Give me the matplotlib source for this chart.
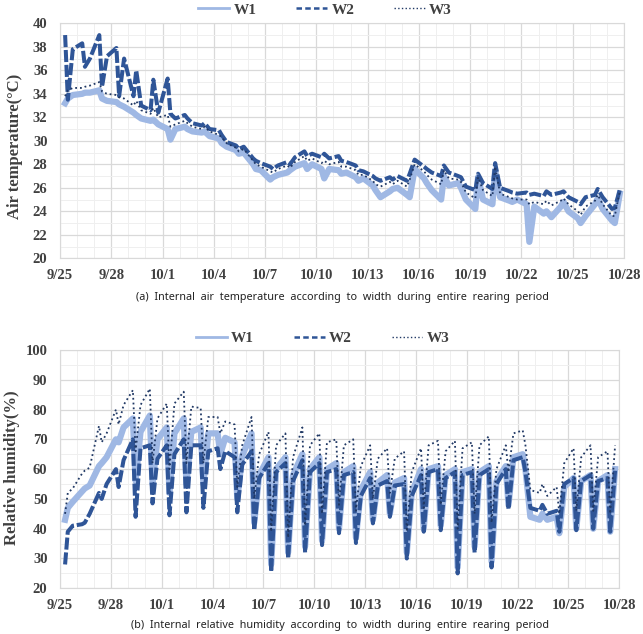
import numpy as np
import matplotlib
matplotlib.use("Agg")
import matplotlib.pyplot as plt

# three readings a day (early morning, midday, evening), days counted from 9/25
day_offsets = [0.3, 0.46, 0.75]
t = np.array([d + f for d in range(33) for f in day_offsets])

date_labels = ["9/25", "9/28", "10/1", "10/4", "10/7", "10/10",
               "10/13", "10/16", "10/19", "10/22", "10/25", "10/28"]
series_names = ["W1", "W2", "W3"]

# internal air temperature (C), one row per day
temp_w1 = [
    33.2, 33.6, 33.9,  34.0, 34.1, 34.1,  34.3, 33.6, 33.4,  33.3, 33.1, 32.9,
    32.4, 32.2, 31.9,  31.7, 31.8, 31.4,  31.0, 30.1, 31.0,  31.2, 31.0, 30.8,
    30.7, 30.8, 30.4,  30.2, 29.8, 29.5,  29.2, 28.9, 29.0,  28.0, 27.6, 27.5,
    26.7, 26.9, 27.1,  27.3, 27.5, 27.8,  28.1, 27.6, 28.0,  27.6, 26.8, 27.6,
    27.5, 27.2, 27.3,  26.9, 26.6, 26.8,  26.2, 25.8, 25.2,  25.7, 25.9, 26.0,
    25.4, 25.2, 27.6,  26.8, 26.4, 25.8,  25.0, 27.0, 26.2,  26.4, 26.0, 25.0,
    24.2, 26.9, 25.0,  24.6, 27.5, 25.2,  24.9, 24.8, 25.0,  24.6, 21.4, 24.4,
    23.8, 24.0, 23.5,  24.4, 24.8, 24.0,  23.4, 23.0, 23.6,  24.6, 25.1, 24.2,
    23.2, 23.0, 25.5,
]
temp_w2 = [
    39.0, 33.5, 37.8,  38.3, 36.3, 37.0,  39.0, 34.6, 37.2,  37.9, 33.8, 37.0,
    33.8, 36.0, 33.0,  32.6, 35.2, 32.4,  35.3, 32.3, 31.9,  32.2, 31.9, 31.5,
    31.3, 31.5, 31.0,  30.9, 30.5, 29.9,  29.6, 29.3, 29.5,  28.5, 28.3, 28.1,
    27.8, 27.6, 27.9,  28.2, 28.0, 28.6,  29.1, 28.7, 28.9,  28.6, 28.9, 28.5,
    28.7, 28.3, 28.2,  27.9, 27.5, 27.4,  27.0, 26.8, 26.6,  26.9, 26.7, 27.0,
    26.6, 27.2, 28.4,  27.8, 27.6, 27.3,  27.0, 27.9, 27.3,  27.0, 26.9, 26.1,
    25.8, 27.2, 26.4,  25.9, 28.1, 26.0,  25.7, 25.6, 25.5,  25.6, 25.4, 25.5,
    25.3, 25.7, 25.4,  25.6, 25.7, 25.2,  24.8, 24.6, 25.2,  25.4, 25.9, 25.2,
    24.2, 24.3, 25.8,
]
temp_w3 = [
    33.8, 34.3, 34.5,  34.5, 34.6, 34.7,  35.0, 34.2, 34.0,  33.9, 33.7, 33.6,
    33.0, 33.4, 32.6,  32.3, 32.8, 32.0,  32.2, 31.2, 31.4,  31.7, 31.5, 31.2,
    31.0, 31.2, 30.8,  30.5, 30.3, 29.8,  29.4, 29.1, 29.3,  28.3, 28.0, 27.8,
    27.4, 27.3, 27.6,  27.9, 27.7, 28.2,  28.7, 28.3, 28.5,  28.1, 28.3, 28.0,
    28.2, 27.8, 27.8,  27.5, 27.1, 27.1,  26.6, 26.3, 26.1,  26.5, 26.3, 26.6,
    26.1, 26.7, 28.0,  27.4, 27.1, 26.7,  26.3, 27.5, 26.8,  26.7, 26.5, 25.6,
    25.1, 26.9, 25.8,  25.3, 27.8, 25.5,  25.2, 25.1, 25.0,  25.0, 24.6, 24.8,
    24.6, 24.9, 24.5,  24.9, 25.1, 24.6,  24.0, 23.7, 24.4,  24.9, 25.4, 24.6,
    23.6, 23.6, 25.7,
]

# internal relative humidity (%)
hum_w1 = [
    43.0, 47.0, 49.0,  52.5, 53.5, 54.5,  61.0, 62.0, 64.0,  70.0, 69.0, 74.0,
    77.0, 56.0, 72.5,  78.0, 55.0, 70.0,  74.0, 52.0, 72.0,  77.0, 55.0, 72.5,
    74.0, 55.0, 72.0,  72.0, 65.0, 70.5,  69.0, 50.0, 64.5,  72.0, 42.0, 58.0,
    64.0, 28.0, 60.0,  64.0, 32.0, 58.0,  65.0, 34.0, 60.0,  64.0, 36.0, 60.0,
    62.0, 40.0, 59.0,  61.0, 37.0, 53.0,  59.0, 43.0, 55.5,  58.0, 45.0, 55.5,
    57.0, 32.0, 52.0,  60.0, 40.0, 60.0,  61.0, 41.0, 58.0,  60.0, 27.0, 59.0,
    60.0, 34.0, 59.0,  61.0, 29.0, 56.0,  61.0, 48.0, 64.0,  65.0, 60.0, 44.0,
    43.0, 45.0, 43.0,  44.0, 38.5, 54.0,  57.0, 40.0, 56.0,  58.0, 40.0, 56.0,
    58.0, 39.0, 60.0,
]
hum_w2 = [
    28.0, 39.0, 41.0,  41.5, 42.0, 45.0,  52.0, 50.0, 55.0,  60.0, 54.0, 63.0,
    70.0, 44.0, 67.0,  68.0, 48.5, 63.5,  68.0, 44.5, 65.0,  70.0, 45.5, 68.0,
    68.0, 47.0, 66.0,  67.0, 60.0, 66.0,  64.0, 45.5, 61.5,  66.0, 39.5, 57.0,
    62.0, 25.5, 59.0,  62.0, 30.0, 56.0,  63.0, 32.0, 59.0,  62.0, 34.5, 59.0,
    60.0, 38.5, 58.0,  59.0, 35.2, 51.0,  57.0, 41.8, 54.5,  56.0, 44.0, 54.5,
    55.0, 30.0, 51.0,  58.0, 39.0, 59.0,  60.0, 39.5, 57.0,  59.0, 25.0, 58.0,
    59.0, 32.0, 58.0,  60.0, 27.0, 55.0,  60.0, 46.5, 63.0,  64.0, 59.0, 47.0,
    46.0, 48.0, 45.0,  46.0, 39.0, 55.0,  57.0, 39.5, 56.0,  58.0, 40.0, 56.0,
    57.0, 39.0, 59.5,
]
hum_w3 = [
    45.0, 52.0, 53.5,  58.5, 59.5, 60.5,  74.5, 69.0, 72.0,  80.0, 75.0, 81.5,
    86.5, 66.0, 81.5,  87.0, 62.0, 77.0,  82.0, 60.0, 82.0,  86.0, 62.0, 81.0,
    80.5, 62.0, 77.5,  77.5, 72.0, 76.0,  75.0, 54.0, 68.0,  77.5, 50.0, 65.0,
    72.5, 39.0, 68.0,  72.0, 37.0, 64.0,  74.0, 41.0, 68.0,  72.0, 45.0, 69.0,
    70.0, 48.0, 68.0,  70.0, 46.0, 61.0,  68.0, 50.0, 63.5,  67.0, 52.0, 63.5,
    66.0, 39.0, 59.0,  67.0, 47.0, 68.0,  69.5, 48.0, 66.0,  69.5, 40.0, 67.0,
    69.0, 45.0, 68.0,  71.0, 42.0, 60.0,  68.0, 59.0, 72.0,  73.0, 68.0, 53.0,
    52.0, 55.0, 51.0,  54.0, 45.0, 62.0,  67.0, 46.0, 64.0,  68.0, 46.0, 64.0,
    66.0, 45.0, 68.0,
]

plt.rcParams["font.family"] = ["Liberation Serif", "DejaVu Serif"]

colors = ["#9fb8e4", "#2f5597", "#203864"]
# the logged data is dense, so the lines are drawn heavy to read as bands
styles = [dict(ls="-", lw=4.5, solid_joinstyle="round"),
          dict(ls=(0, (3.0, 0.7)), lw=2.9, dash_joinstyle="round"),
          dict(ls=":", lw=1.3)]
legend_styles = [dict(ls="-", lw=2.0), dict(ls=(0, (2.2, 1.3)), lw=1.8), dict(ls=":", lw=1.0)]


def style_axes(ax, ymin, ymax, ymajor, yminor):
    ax.set_xlim(0, 33)
    ax.set_ylim(ymin, ymax)
    ax.set_xticks(np.arange(0, 34, 3))
    ax.set_xticklabels(date_labels)
    ax.set_xticks(np.arange(0, 34, 1), minor=True)
    ax.set_yticks(np.arange(ymin, ymax + 1, ymajor))
    ax.set_yticks(np.arange(ymin, ymax + 1, yminor), minor=True)
    ax.grid(which="major", color="#d9d9d9", lw=0.9)
    ax.grid(which="minor", color="#efefef", lw=0.7)
    ax.set_axisbelow(True)
    ax.tick_params(which="both", length=0)
    ax.tick_params(axis="y", pad=9)
    ax.tick_params(axis="x", pad=8)
    for lab in ax.get_xticklabels() + ax.get_yticklabels():
        lab.set_fontweight("bold")
        lab.set_fontsize(10.5)
        lab.set_color("#404040")
    for s in ax.spines.values():
        s.set_color("#d9d9d9")


fig = plt.figure(figsize=(6.43, 6.34), dpi=100)
ax1 = fig.add_axes([0.0933, 0.5926, 0.8772, 0.3706])
ax2 = fig.add_axes([0.0933, 0.0721, 0.8699, 0.3759])

for ax, group in [(ax1, [temp_w1, temp_w2, temp_w3]), (ax2, [hum_w1, hum_w2, hum_w3])]:
    for vals, name, c, st, lst in zip(group, series_names, colors, styles, legend_styles):
        ax.plot(t, vals, color=c, **st)
        ax.plot([], [], color=c, label=name, **lst)

style_axes(ax1, 20, 40, 2, 1)
style_axes(ax2, 20, 100, 10, 5)

ax1.set_ylabel("Air temperature(°C)", fontsize=12, fontweight="bold", color="#404040")
ax2.set_ylabel("Relative humidity(%)", fontsize=12, fontweight="bold", color="#404040")
ax1.yaxis.set_label_coords(-0.066, 0.475)
ax2.yaxis.set_label_coords(-0.072, 0.505)

for ax, y in [(ax1, 1.057), (ax2, 1.05)]:
    leg = ax.legend(loc="center", bbox_to_anchor=(0.47, y), ncol=3, frameon=False,
                    prop=dict(weight="bold", size=11), handlelength=2.0,
                    columnspacing=2.6, handletextpad=0.3)
    for txt in leg.get_texts():
        txt.set_color("#404040")

fig.text(0.532, 0.531, "(a)  Internal  air  temperature  according  to  width  during  entire  rearing  period",
         ha="center", va="center", fontsize=7.8, family="Noto Sans", color="#222222")
fig.text(0.528, 0.014, "(b)  Internal  relative  humidity  according  to  width  during  entire  rearing  period",
         ha="center", va="center", fontsize=7.8, family="Noto Sans", color="#222222")

fig.savefig("out.png", dpi=100)
